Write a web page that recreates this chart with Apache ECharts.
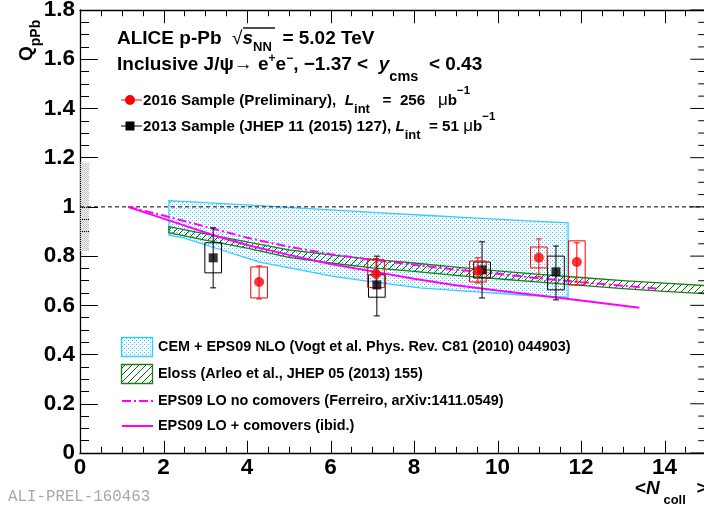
<!DOCTYPE html>
<html><head><meta charset="utf-8">
<script src="https://cdn.jsdelivr.net/npm/echarts@6/dist/echarts.min.js"></script>
<style>html,body{margin:0;padding:0;background:#fff}#c{width:704px;height:509px}</style>
</head><body><div id="c"></div>
<script>
// ---------------- data ----------------
const xTickValues = [0, 2, 4, 6, 8, 10, 12, 14];
const yTickValues = [0, 0.2, 0.4, 0.6, 0.8, 1, 1.2, 1.4, 1.6, 1.8];

// 2016 sample (preliminary) - red
const red2016X      = [4.29, 7.09, 9.53, 10.99, 11.90];
const red2016Y      = [0.695, 0.728, 0.740, 0.793, 0.776];
const red2016StatLo = [0.626, 0.670, 0.691, 0.715, 0.695];
const red2016StatHi = [0.760, 0.790, 0.793, 0.870, 0.854];
const red2016SystLo = [0.630, 0.672, 0.695, 0.752, 0.683];
const red2016SystHi = [0.756, 0.785, 0.780, 0.837, 0.862];

// 2013 sample (JHEP) - black
const blk2013X      = [3.19, 7.11, 9.63, 11.40];
const blk2013Y      = [0.793, 0.683, 0.744, 0.736];
const blk2013StatLo = [0.671, 0.557, 0.630, 0.622];
const blk2013StatHi = [0.915, 0.800, 0.858, 0.841];
const blk2013SystLo = [0.732, 0.633, 0.711, 0.663];
const blk2013SystHi = [0.854, 0.724, 0.776, 0.800];

// CEM + EPS09 NLO band
const cemX    = [2.13, 2.46, 3.2, 4.3, 5.27, 6.0, 7.0, 8.14, 9.5, 10.5, 11.69];
const cemHigh = [1.025, 1.022, 1.015, 1.005, 0.995, 0.988, 0.978, 0.967, 0.954, 0.945, 0.935];
const cemLow  = [0.885, 0.875, 0.835, 0.776, 0.744, 0.720, 0.695, 0.671, 0.655, 0.643, 0.632];

// Eloss band
const elossX    = [2.13, 3, 4, 5, 6, 7, 8, 9, 10, 11, 12, 13, 14, 15];
const elossHigh = [0.920, 0.890, 0.858, 0.825, 0.805, 0.787, 0.772, 0.755, 0.740, 0.726, 0.713, 0.700, 0.690, 0.680];
const elossLow  = [0.895, 0.865, 0.832, 0.795, 0.772, 0.752, 0.738, 0.722, 0.708, 0.694, 0.681, 0.668, 0.657, 0.647];

// EPS09 LO no comovers (dash-dot)
const noComovX = [1.15, 2, 3, 4, 5, 6, 7, 8, 9, 10, 11, 12, 13, 13.8];
const noComovY = [1.0, 0.965, 0.920, 0.875, 0.838, 0.808, 0.785, 0.765, 0.745, 0.728, 0.710, 0.694, 0.680, 0.668];

// EPS09 LO + comovers (solid)
const comovX = [1.15, 2.4, 3.2, 4, 5, 6, 7, 8, 9, 10, 11, 12, 13.4];
const comovY = [1.0, 0.930, 0.885, 0.845, 0.805, 0.768, 0.738, 0.708, 0.682, 0.660, 0.640, 0.620, 0.590];

// global uncertainty box at x = 0
const globUncX = [0, 0.22];
const globUncY = [0.82, 1.18];

// unity reference
const unityX = [0, 15];
const unityY = [1, 1];

// ---------------- styles / layout ----------------
const X_MAX = 16;            // scale runs past the picture edge (frame sits at 15, just outside)
const X_FRAME = 15;
const Y_MAX = 1.8;
const EPS = 1e-3;
const SYST_HALF_WIDTH = 0.2;
const FONT = "'Liberation Sans', Arial, Helvetica, sans-serif";
const LABEL_SIZE = 22.5;
function makePattern(w, h, draw) {
  const c = document.createElement('canvas'); c.width = w; c.height = h;
  const ctx = c.getContext('2d'); draw(ctx);
  return {image: c, repeat: 'repeat'};
}
const cyanDots = makePattern(4, 4, ctx => { ctx.fillStyle = '#2ccaff'; ctx.fillRect(0,0,1,1); ctx.fillRect(2,2,1,1); ctx.fillStyle = 'rgba(80,210,255,0.3)'; ctx.fillRect(2,0,1,1); });
const greenHatch = makePattern(7, 7, ctx => { ctx.strokeStyle = '#0b6b0b'; ctx.lineWidth = 1; ctx.beginPath(); ctx.moveTo(-1,8); ctx.lineTo(8,-1); ctx.stroke(); });
const grayDots = makePattern(2, 2, ctx => { ctx.fillStyle = '#bdbdbd'; ctx.fillRect(0,0,1,1); ctx.fillStyle = '#cccccc'; ctx.fillRect(1,1,1,1); ctx.fillStyle = '#eeeeee'; ctx.fillRect(1,0,1,1); });

// frame tick positions
const xTickPos = [];                       // 0.5 .. 15 (x = 0 coincides with the y axis line)
for (let k = 1; k <= 30; k++) xTickPos.push(k * 0.5);
const yMajorTicks = [], yMinorTicks = [];
for (let k = 0; k <= 36; k++) { const v = +(k * 0.05).toFixed(2); (k % 4 === 0 ? yMajorTicks : yMinorTicks).push(v); }

function tickSeries(points, size, offset) {
  return {type: 'scatter', z: 12, silent: true, clip: false, symbol: 'rect', symbolSize: size, symbolOffset: offset,
    data: points, itemStyle: {color: '#000', opacity: 1}, emphasis: {disabled: true}};
}

function bandSeries(xs, lo, hi, fill, stroke, z) {
  return {
    type: 'custom', z: z, clip: true, silent: true,
    data: xs.map((x, i) => [x, lo[i], hi[i]]),
    encode: {x: 0, y: [1, 2]},
    renderItem(params, api) {
      if (params.dataIndex !== 0) return;
      const up = xs.map((x, i) => api.coord([x, hi[i]]));
      const dn = xs.map((x, i) => api.coord([x, lo[i]])).reverse();
      return {type: 'polygon', shape: {points: up.concat(dn)},
              style: {fill: fill, stroke: stroke, lineWidth: 1.3}};
    }
  };
}

function errSeries(xs, ys, sLo, sHi, bLo, bHi, color, z) {
  return {
    type: 'custom', z: z, clip: true, silent: true,
    data: xs.map((x, i) => [x, ys[i], sLo[i], sHi[i], bLo[i], bHi[i]]),
    encode: {x: 0, y: [1, 2, 3, 4, 5]},
    renderItem(params, api) {
      const x = api.value(0);
      const top = api.coord([x, api.value(3)]), bot = api.coord([x, api.value(2)]);
      const b1 = api.coord([x - SYST_HALF_WIDTH, api.value(5)]);
      const b2 = api.coord([x + SYST_HALF_WIDTH, api.value(4)]);
      const cap = 3, st = {stroke: color, lineWidth: 1};
      return {type: 'group', children: [
        {type: 'rect', shape: {x: b1[0], y: b1[1], width: b2[0] - b1[0], height: b2[1] - b1[1]}, style: {fill: 'none', stroke: color, lineWidth: 1}},
        {type: 'line', shape: {x1: top[0], y1: top[1], x2: bot[0], y2: bot[1]}, style: st},
        {type: 'line', shape: {x1: top[0] - cap, y1: top[1], x2: top[0] + cap, y2: top[1]}, style: st},
        {type: 'line', shape: {x1: bot[0] - cap, y1: bot[1], x2: bot[0] + cap, y2: bot[1]}, style: st}
      ]};
    }
  };
}

function rs(size, extra) {
  return Object.assign({fontSize: size, fontFamily: FONT, fontWeight: 'bold', fill: '#000'}, extra || {});
}

const option = {
  animation: false,
  backgroundColor: '#fff',
  grid: {left: 80, right: -44, top: 10, bottom: 56, containLabel: false, outerBoundsMode: 'none'},
  xAxis: [
    {type: 'value', min: 0, max: X_MAX, interval: 2, position: 'bottom',
      splitLine: {show: false},
      axisLine: {show: true, onZero: false, lineStyle: {color: '#000', width: 1.3}},
      axisTick: {show: false}, minorTick: {show: false},
      axisLabel: {show: true, fontFamily: FONT, fontWeight: 'bold', fontSize: LABEL_SIZE, color: '#000', margin: 3,
        formatter: v => (xTickValues.indexOf(v) >= 0 ? String(v) : '')}},
    {type: 'value', min: 0, max: X_MAX, interval: 2, position: 'top',
      splitLine: {show: false},
      axisLine: {show: true, onZero: false, lineStyle: {color: '#000', width: 1.3}},
      axisTick: {show: false}, minorTick: {show: false}, axisLabel: {show: false}}
  ],
  yAxis: [
    {type: 'value', min: 0, max: Y_MAX, interval: 0.2, position: 'left',
      splitLine: {show: false},
      axisLine: {show: true, onZero: false, lineStyle: {color: '#000', width: 1.3}},
      axisTick: {show: true, inside: true, length: 18, lineStyle: {color: '#000', width: 1}},
      minorTick: {show: true, splitNumber: 4, length: 9, lineStyle: {color: '#000', width: 1}},
      axisLabel: {show: true, fontFamily: FONT, fontWeight: 'bold', fontSize: LABEL_SIZE, color: '#000', margin: 5,
        formatter: v => { const s = String(+v.toFixed(1)); return yTickValues.indexOf(+s) >= 0 ? s : ''; }}}
  ],
  series: [
    {type: 'custom', z: 1, clip: true, silent: true,
      data: [[globUncX[0], globUncY[0], globUncX[1], globUncY[1]]],
      encode: {x: [0, 2], y: [1, 3]},
      renderItem(params, api) {
        const p1 = api.coord([api.value(0), api.value(3)]);
        const p2 = api.coord([api.value(2), api.value(1)]);
        return {type: 'rect', shape: {x: p1[0], y: p1[1], width: p2[0] - p1[0], height: p2[1] - p1[1]},
                style: {fill: grayDots}};
      }},
    bandSeries(cemX, cemLow, cemHigh, cyanDots, '#33ccff', 2),
    bandSeries(elossX, elossLow, elossHigh, greenHatch, '#1d7d1d', 3),
    {type: 'line', z: 4, silent: true, symbol: 'none', data: unityX.map((x, i) => [x, unityY[i]]),
      lineStyle: {color: '#000', width: 1, type: [4, 3]}},
    {type: 'line', z: 5, silent: true, symbol: 'none', data: noComovX.map((x, i) => [x, noComovY[i]]),
      lineStyle: {color: '#ff00ff', width: 2, type: [9, 3, 2, 3]}},
    {type: 'line', z: 5, silent: true, symbol: 'none', data: comovX.map((x, i) => [x, comovY[i]]),
      lineStyle: {color: '#ff00ff', width: 2}},
    errSeries(blk2013X, blk2013Y, blk2013StatLo, blk2013StatHi, blk2013SystLo, blk2013SystHi, '#000', 6),
    errSeries(red2016X, red2016Y, red2016StatLo, red2016StatHi, red2016SystLo, red2016SystHi, '#ff0000', 7),
    {type: 'scatter', z: 8, silent: true, symbol: 'rect', symbolSize: 9, data: blk2013X.map((x, i) => [x, blk2013Y[i]]),
      itemStyle: {color: '#000'}},
    {type: 'scatter', z: 9, silent: true, symbol: 'circle', symbolSize: 10, data: red2016X.map((x, i) => [x, red2016Y[i]]),
      itemStyle: {color: '#ff0000'}},
    // bottom-edge tick marks: anchored at mid-height, drawn down to the x axis through the scale (own layer)
    {type: 'custom', zlevel: 1, z: 12, clip: false, silent: true,
      data: xTickPos.map(v => [v, Y_MAX / 2]),
      encode: {x: 0, y: 1},
      renderItem(params, api) {
        const x = api.value(0);
        const len = xTickValues.indexOf(x) >= 0 ? 12 : 6;
        const b = api.coord([x, EPS]);
        const px = Math.round(b[0]) + 0.5;
        return {type: 'line', shape: {x1: px, y1: b[1], x2: px, y2: b[1] - len}, style: {stroke: '#000', lineWidth: 1}};
      }},
    // right-edge tick marks
    tickSeries(yMajorTicks.map(v => [X_FRAME, v]), [16, 1], [-8, 0]),
    tickSeries(yMinorTicks.map(v => [X_FRAME, v]), [8, 1], [-4, 0])
  ],
  graphic: [
    // title line 1
    {type: 'text', x: 117, y: 38.5, z: 20, style: {
      text: '{b|ALICE p-Pb  }{r|√}{i|s}{s|NN}{b|  = 5.02 TeV}', verticalAlign: 'middle', align: 'left',
      rich: {b: rs(19, {lineHeight: 31}), r: rs(19, {lineHeight: 31, fontWeight: 'normal'}),
             i: rs(19, {lineHeight: 31, fontStyle: 'italic'}), s: rs(13, {verticalAlign: 'bottom'})}}},
    {type: 'line', z: 20, shape: {x1: 243, y1: 28, x2: 275, y2: 28}, style: {stroke: '#000', lineWidth: 1.4}},
    // title line 2
    {type: 'text', x: 117, y: 64.5, z: 20, style: {
      text: '{b|Inclusive J/ψ→ e}{p|+}{b|e}{p|−}{b|, −1.37 <  }{i|y}{s|cms}{b|  < 0.43}', verticalAlign: 'middle', align: 'left',
      rich: {b: rs(19, {lineHeight: 40}), i: rs(19, {lineHeight: 40, fontStyle: 'italic'}),
             p: rs(12, {verticalAlign: 'bottom', padding: [0, 0, 20, 0]}), s: rs(14.5, {verticalAlign: 'bottom'})}}},
    // top legend
    {type: 'line', z: 20, shape: {x1: 121, y1: 100, x2: 142, y2: 100}, style: {stroke: '#ff0000', lineWidth: 1}},
    {type: 'circle', z: 21, shape: {cx: 130, cy: 100, r: 5}, style: {fill: '#ff0000'}},
    {type: 'text', x: 143, y: 100.5, z: 20, style: {
      text: '{b|2016 Sample (Preliminary),  }{i|L}{s|int}{b|   =  256   }{g|μ}{b|b}{p|−1}', verticalAlign: 'middle', align: 'left',
      rich: {b: rs(15.2, {lineHeight: 26}), i: rs(15.2, {lineHeight: 26, fontStyle: 'italic'}),
             g: rs(17, {lineHeight: 26, fontWeight: 'normal'}),
             p: rs(11.5, {verticalAlign: 'bottom', padding: [0, 0, 19, 0]}), s: rs(13, {verticalAlign: 'bottom'})}}},
    {type: 'line', z: 20, shape: {x1: 121, y1: 126, x2: 142, y2: 126}, style: {stroke: '#000', lineWidth: 1}},
    {type: 'rect', z: 21, shape: {x: 125.5, y: 121.5, width: 9, height: 9}, style: {fill: '#000'}},
    {type: 'text', x: 143, y: 126.5, z: 20, style: {
      text: '{b|2013 Sample (JHEP 11 (2015) 127), }{i|L}{s|int}{b|  = 51 }{g|μ}{b|b}{p|−1}', verticalAlign: 'middle', align: 'left',
      rich: {b: rs(15.2, {lineHeight: 26}), i: rs(15.2, {lineHeight: 26, fontStyle: 'italic'}),
             g: rs(17, {lineHeight: 26, fontWeight: 'normal'}),
             p: rs(11.5, {verticalAlign: 'bottom', padding: [0, 0, 19, 0]}), s: rs(13, {verticalAlign: 'bottom'})}}},
    // bottom legend
    {type: 'rect', z: 20, shape: {x: 121.5, y: 337.5, width: 31, height: 19}, style: {fill: cyanDots, stroke: '#33ccff', lineWidth: 1.3}},
    {type: 'text', x: 158, y: 347.5, z: 20, style: {text: 'CEM + EPS09 NLO (Vogt et al. Phys. Rev. C81 (2010) 044903)',
      font: 'bold 14.4px ' + FONT, fill: '#000', verticalAlign: 'middle', align: 'left'}},
    {type: 'rect', z: 20, shape: {x: 121.5, y: 364.5, width: 31, height: 19}, style: {fill: greenHatch, stroke: '#1d7d1d', lineWidth: 1.3}},
    {type: 'text', x: 158, y: 374, z: 20, style: {text: 'Eloss (Arleo et al., JHEP 05 (2013) 155)',
      font: 'bold 14.4px ' + FONT, fill: '#000', verticalAlign: 'middle', align: 'left'}},
    {type: 'line', z: 20, shape: {x1: 122, y1: 401, x2: 153, y2: 401}, style: {stroke: '#ff00ff', lineWidth: 2, lineDash: [9, 3, 2, 3]}},
    {type: 'text', x: 158, y: 401, z: 20, style: {text: 'EPS09 LO no comovers (Ferreiro, arXiv:1411.0549)',
      font: 'bold 14.4px ' + FONT, fill: '#000', verticalAlign: 'middle', align: 'left'}},
    {type: 'line', z: 20, shape: {x1: 122, y1: 426, x2: 153, y2: 426}, style: {stroke: '#ff00ff', lineWidth: 2}},
    {type: 'text', x: 158, y: 426, z: 20, style: {text: 'EPS09 LO + comovers (ibid.)',
      font: 'bold 14.4px ' + FONT, fill: '#000', verticalAlign: 'middle', align: 'left'}},
    // y axis title
    {type: 'text', x: 27, y: 61, rotation: Math.PI / 2, z: 20, style: {
      text: '{b|Q}{s|pPb}', verticalAlign: 'middle', align: 'left',
      rich: {b: rs(19, {lineHeight: 32}), s: rs(14, {verticalAlign: 'bottom'})}}},
    // x axis title
    {type: 'text', x: 635, y: 489, z: 20, style: {
      text: '{b|<}{i|N}{s| coll}{b|  >}', verticalAlign: 'middle', align: 'left',
      rich: {b: rs(19, {lineHeight: 36}), i: rs(19, {lineHeight: 36, fontStyle: 'italic'}),
             s: rs(13, {verticalAlign: 'bottom'})}}},
    // watermark
    {type: 'text', x: 8, y: 497, z: 20, style: {text: 'ALI-PREL-160463',
      font: '15.8px "Liberation Mono", monospace', fill: '#a8a8a8', verticalAlign: 'middle', align: 'left'}}
  ]
};
const chart = echarts.init(document.getElementById('c'));
chart.setOption(option);

// top-edge tick marks, positioned through the chart's axis scales (own layer)
try {
  const topTicks = [];
  xTickPos.forEach(v => {
    const p = chart.convertToPixel({gridIndex: 0}, [v, Y_MAX - EPS]);
    if (!p || !isFinite(p[0]) || !isFinite(p[1])) return;
    const len = xTickValues.indexOf(v) >= 0 ? 13 : 6;
    const px = Math.round(p[0]) + 0.5;
    topTicks.push({type: 'line', zlevel: 1, z: 30, silent: true, shape: {x1: px, y1: p[1], x2: px, y2: p[1] + len},
                   style: {stroke: '#000', lineWidth: 1}});
  });
  if (topTicks.length) chart.setOption({graphic: option.graphic.concat(topTicks)});
} catch (e) { /* keep the chart as drawn */ }
</script>
</body></html>
